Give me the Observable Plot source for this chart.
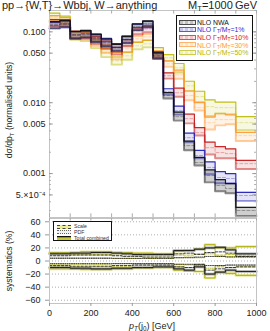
<!DOCTYPE html>
<html><head><meta charset="utf-8">
<script src="https://cdn.jsdelivr.net/npm/d3@7"></script>
<script src="https://cdn.jsdelivr.net/npm/@observablehq/plot@0.6"></script>
<style>
body{margin:0;background:#fff;font-family:"Liberation Sans",Arial,sans-serif;}
#wrap{position:relative;width:270px;height:331px;overflow:hidden;background:#fff;}
#wrap svg{position:absolute;left:0;overflow:visible;}
.t{position:absolute;white-space:nowrap;color:#222;}
.leg{position:absolute;background:#fff;border:1.5px solid #111;box-sizing:border-box;}
.row{position:absolute;left:0;white-space:nowrap;}
.sw{position:absolute;box-sizing:border-box;}
sub{font-size:70%;vertical-align:-0.25em;line-height:0;}
</style></head><body><div id="wrap"></div>
<script>
// ---------- data ----------
const binEdges = [0,50,100,150,200,250,300,350,400,450,500,550,600,650,700,750,800,850,900,1000];
const nwa = [0.1255,0.1296,0.0907,0.0937,0.0823,0.0700,0.0595,0.0772,0.1176,0.1296,0.0459,0.0126,0.00635,0.00248,0.00143,0.000938,0.000678,0.000615,0.000301];
const w1  = [0.1235,0.1280,0.0900,0.0930,0.0815,0.0715,0.0610,0.0790,0.1165,0.1280,0.0474,0.0143,0.00771,0.00321,0.00180,0.00122,0.000880,0.000851,0.000490];
const w10 = [0.1339,0.1339,0.0907,0.0907,0.0772,0.0656,0.0540,0.0700,0.1033,0.1102,0.0459,0.0240,0.0138,0.00595,0.00378,0.00232,0.00198,0.00191,0.00138];
const w30 = [0.1524,0.1429,0.0907,0.0878,0.0723,0.0576,0.0459,0.0576,0.0797,0.0850,0.0490,0.0354,0.0248,0.0126,0.00851,0.00523,0.00577,0.00577,0.00343];
const w50 = [0.1627,0.1476,0.0878,0.0850,0.0678,0.0506,0.0391,0.0459,0.0635,0.0678,0.0540,0.0430,0.0311,0.0173,0.0122,0.00879,0.00851,0.00851,0.00523];

// systematics (%) for NWA and Gamma/M = 50%
const nwaScaleUp = [8,8,9,9,9,9,8,7,7,6,6,6,11,12,10,13,14,12,7];
const nwaScaleDn = [-7,-7,-8,-8,-8,-8,-7,-7,-6,-6,-6,-6,-9,-10,-5,-14,-12,-10,-9];
const nwaPdfUp   = [4,4,4,4,4,4,4,4,4,4,4,4,5,5,6,7,7,6,6];
const nwaPdfDn   = [-4,-4,-4,-4,-4,-4,-4,-4,-4,-4,-4,-4,-5,-5,-6,-7,-7,-6,-6];
const nwaTotUp   = [11,11,12,12,13,13,12,11,10,10,10,10,16,16,18,20,21,17,11];
const nwaTotDn   = [-10,-10,-11,-11,-12,-12,-11,-11,-10,-10,-9,-9,-12,-14,-9,-20,-17,-14,-16];
const w50ScaleUp = [9,9,10,10,10,10,9,9,8,8,8,8,9,9,11,20,9,10,9];
const w50ScaleDn = [-8,-8,-9,-9,-9,-9,-8,-8,-7,-7,-7,-7,-8,-10,-8,-20,-9,-10,-9];
const w50PdfUp   = [5,5,5,5,5,5,4,4,4,4,4,4,5,6,5,11,7,7,7];
const w50PdfDn   = [-5,-5,-5,-5,-5,-5,-4,-4,-4,-4,-4,-4,-5,-6,-5,-11,-7,-7,-7];
const w50TotUp   = [13,13,13,14,14,14,13,13,12,12,11,11,15,16,19,25,20,20,22];
const w50TotDn   = [-12,-12,-12,-13,-13,-13,-12,-12,-11,-11,-10,-10,-14,-15,-16,-26,-17,-19,-22];

const yTicks = [0.1,0.05,0.01,0.005,0.001,0.0005];
const yTickLabels = ["0.100","0.050","0.010","0.005","0.001","5.\u00d710\u207b\u2074"];
const xTicks = [0,200,400,600,800,1000];
const sysTicks = [-60,-40,-20,0,20,40,60];

const seriesNames = ["NLO NWA","NLO \u0393<sub>T</sub>/M<sub>T</sub>=1%","NLO \u0393<sub>T</sub>/M<sub>T</sub>=10%","NLO \u0393<sub>T</sub>/M<sub>T</sub>=30%","NLO \u0393<sub>T</sub>/M<sub>T</sub>=50%"];
const seriesColors = ["#111111","#2424b8","#c41c1c","#ff9a3a","#bdbd10"];
const textColors = ["#111111","#2a2ad0","#cc2222","#ff9933","#b5b500"];

// ---------- helpers ----------
function steps(vals, up, dn) {
  return binEdges.map((e,i)=>{
    const j = Math.min(i, vals.length-1);
    return {x:e, y:vals[j], hi: vals[j]*(1+up[j]/100), lo: vals[j]*(1+dn[j]/100)};
  });
}
function sysSteps(vals) {
  return binEdges.map((e,i)=>({x:e, y:vals[Math.min(i, vals.length-1)]}));
}

const wrap = document.getElementById("wrap");

// ---------- main panel ----------
const allSeries = [nwa,w1,w10,w30,w50];
const marks = [];
for (let k = 4; k >= 0; k--) {
  const isW50 = k===4;
  const d = steps(allSeries[k], isW50?w50TotUp:nwaTotUp, isW50?w50TotDn:nwaTotDn);
  const c = seriesColors[k];
  marks.push(Plot.areaY(d,{x:"x",y1:"lo",y2:"hi",curve:"step-after",fill:c,fillOpacity:k===0?0.2:0.12}));
  marks.push(Plot.lineY(d,{x:"x",y:"lo",curve:"step-after",stroke:c,strokeWidth:1.9,strokeOpacity:0.5}));
  marks.push(Plot.lineY(d,{x:"x",y:"hi",curve:"step-after",stroke:c,strokeWidth:1.2,strokeOpacity:0.95}));
  marks.push(Plot.lineY(d,{x:"x",y:"y",curve:"step-after",stroke:c,strokeWidth:0.8,strokeOpacity:0.4,strokeDasharray:"3,2"}));
}
const minorY = [];
for (const p of [1e-4,1e-3,1e-2,1e-1]) for (let m=1;m<=9;m++){const v=m*p; if(v>=2.4e-4&&v<=0.2) minorY.push(v);}
const tickText = yTicks.map((t,i)=>({v:t, s:yTickLabels[i]}));
const minorX = d3.range(0,1001,100);

const main = Plot.plot({
  width:270, height:219, marginTop:10, marginBottom:2, marginLeft:49, marginRight:14,
  style:{fontFamily:"Liberation Sans, Arial, sans-serif", fontSize:"9px", background:"transparent"},
  x:{domain:[0,1000], axis:null},
  y:{type:"log", domain:[2.4e-4,0.2], axis:null},
  marks:[
    ...marks,
    Plot.frame({stroke:"#c4c4c4"}),
    Plot.ruleY(minorY,{y:d=>d, x1:0, x2:9, stroke:"#aaa"}),
    Plot.ruleY(minorY,{y:d=>d, x1:991, x2:1000, stroke:"#aaa"}),
    Plot.ruleY(yTicks,{y:d=>d, x1:0, x2:18, stroke:"#999"}),
    Plot.ruleY(yTicks,{y:d=>d, x1:982, x2:1000, stroke:"#999"}),
    Plot.text(tickText,{y:"v", text:"s", frameAnchor:"left", dx:-4, textAnchor:"end", fontSize:9, fill:"#222"}),
    Plot.ruleX(minorX,{x:d=>d, y1:2.4e-4, y2:2.7e-4, stroke:"#aaa"}),
    Plot.ruleX(minorX,{x:d=>d, y1:0.2, y2:0.178, stroke:"#aaa"})
  ]
});
main.style.top = "0px";
wrap.appendChild(main);

// ---------- systematics panel ----------
const sysMarks = [];
const groups = [
  {col:"#111111", halo:"#8a8a8a", tu:nwaTotUp, td:nwaTotDn, su:nwaScaleUp, sd:nwaScaleDn, pu:nwaPdfUp, pd:nwaPdfDn},
  {col:"#a8a800", halo:"#e2e070", tu:w50TotUp, td:w50TotDn, su:w50ScaleUp, sd:w50ScaleDn, pu:w50PdfUp, pd:w50PdfDn}
];
for (const g of groups.slice().reverse()) {
  for (const arr of [g.tu,g.td]) {
    const d = sysSteps(arr);
    sysMarks.push(Plot.lineY(d,{x:"x",y:"y",curve:"step-after",stroke:g.halo,strokeWidth:2.6,strokeOpacity:0.7}));
    sysMarks.push(Plot.lineY(d,{x:"x",y:"y",curve:"step-after",stroke:g.col,strokeWidth:0.9}));
  }
  for (const arr of [g.su,g.sd]) {
    sysMarks.push(Plot.lineY(sysSteps(arr),{x:"x",y:"y",curve:"step-after",stroke:g.col,strokeWidth:0.8,strokeDasharray:"2.5,1.5"}));
  }
  for (const arr of [g.pu,g.pd]) {
    sysMarks.push(Plot.lineY(sysSteps(arr),{x:"x",y:"y",curve:"step-after",stroke:g.col,strokeWidth:0.8,strokeDasharray:"1,1.2"}));
  }
}
const sys = Plot.plot({
  width:270, height:116, marginTop:3, marginBottom:28, marginLeft:49, marginRight:14,
  style:{fontFamily:"Liberation Sans, Arial, sans-serif", fontSize:"9px", background:"transparent"},
  x:{domain:[0,1000]},
  y:{domain:[-65,65]},
  marks:[
    Plot.gridY(sysTicks,{stroke:"#999",strokeOpacity:0.8,strokeDasharray:"1,2"}),
    ...sysMarks,
    Plot.frame({stroke:"#c4c4c4"}),
    Plot.axisY(sysTicks,{tickSize:4, fontSize:9, stroke:"#999", color:"#222", label:null}),
    Plot.axisX(xTicks,{tickSize:3, fontSize:9, stroke:"#999", color:"#222", label:null, tickPadding:3, tickFormat:d=>String(d)}),
    Plot.ruleX(minorX,{x:d=>d, y1:65, y2:61, stroke:"#aaa"})
  ]
});
sys.style.top = "215px";
wrap.appendChild(sys);

// ---------- texts ----------
function addText(html, css) {
  const el = document.createElement("div");
  el.className = "t"; el.innerHTML = html;
  Object.assign(el.style, css);
  wrap.appendChild(el); return el;
}
addText("pp\u2192{W,T}\u2192Wbbj, W\u2192anything",{left:"2px",top:"0px",fontSize:"11px",lineHeight:"10px"});
addText("M<sub>T</sub>=1000\u2009GeV",{right:"13px",top:"0px",fontSize:"11px",lineHeight:"10px"});
addText("d\u03c3/dp<sub>T</sub> (normalised units)",{left:"9px",top:"110px",fontSize:"8.6px",transform:"translate(-50%,-50%) rotate(-90deg)"});
addText("systematics (%)",{left:"9px",top:"261px",fontSize:"8.6px",transform:"translate(-50%,-50%) rotate(-90deg)"});
addText("<i>p</i><sub><i>T</i></sub>(j<sub>0</sub>) [GeV]",{left:"152px",top:"326px",fontSize:"9px",transform:"translate(-50%,-50%)"});

// main legend
const leg = document.createElement("div");
leg.className = "leg";
Object.assign(leg.style,{left:"176px",top:"15px",width:"77px",height:"46px"});
seriesNames.forEach((n,i)=>{
  const top = 3 + i*7.6;
  const sw = document.createElement("div"); sw.className="sw";
  Object.assign(sw.style,{left:"2px",top:(top+0.5)+"px",width:"17px",height:"5px",border:"1.3px solid "+seriesColors[i],opacity:"0.75",
    background:`repeating-linear-gradient(90deg, ${seriesColors[i]}55 0 3px, ${seriesColors[i]}22 3px 5px)`});
  leg.appendChild(sw);
  const r = document.createElement("div"); r.className="row";
  Object.assign(r.style,{left:"20px",top:(top-1.2)+"px",fontSize:"6.9px",color:textColors[i],lineHeight:"9px"});
  r.innerHTML = n; leg.appendChild(r);
});
wrap.appendChild(leg);

// systematics legend
const leg2 = document.createElement("div");
leg2.className = "leg";
Object.assign(leg2.style,{left:"53px",top:"221px",width:"59px",height:"20px",borderWidth:"1.2px"});
const sysNames = ["Scale","PDF","Total combined"];
const sysSw = [
  "background:#eeee99;border-top:1px dashed #444;border-bottom:1px dashed #444;",
  "background:#f2f2f2;border-top:1px dotted #666;border-bottom:1px dotted #666;",
  "background:#888;border-top:1px solid #111;border-bottom:2px solid #c8c830;"
];
sysNames.forEach((n,i)=>{
  const top = 2 + i*5.6;
  const sw = document.createElement("div"); sw.className="sw";
  sw.style.cssText = `left:3px;top:${top+0.6}px;width:14px;height:4px;` + sysSw[i];
  leg2.appendChild(sw);
  const r = document.createElement("div"); r.className="row";
  Object.assign(r.style,{left:"20px",top:(top-0.6)+"px",fontSize:"5.2px",lineHeight:"6px",color:"#333"});
  r.textContent = n; leg2.appendChild(r);
});
wrap.appendChild(leg2);
</script>
</body></html>
